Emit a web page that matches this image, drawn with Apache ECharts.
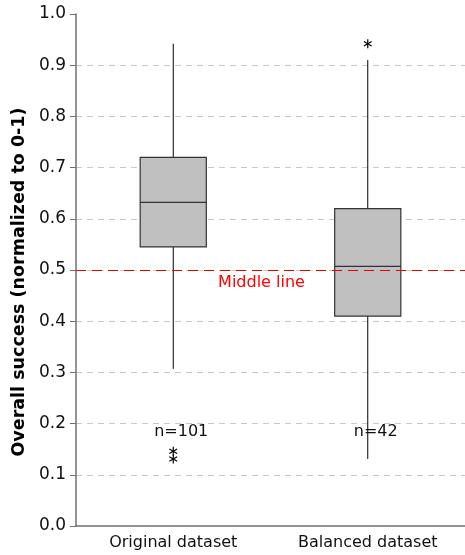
<!DOCTYPE html>
<html><head><meta charset="utf-8">
<script src="https://cdn.jsdelivr.net/npm/echarts@6/dist/echarts.min.js"></script>
<style>html,body{margin:0;padding:0;background:#fff}#c{width:465px;height:555px}</style>
</head><body><div id="c"></div>
<script>
var categories = ['Original dataset', 'Balanced dataset'];
var whiskerLow = [0.307, 0.131];
var q1 = [0.545, 0.410];
var median = [0.632, 0.507];
var q3 = [0.720, 0.620];
var whiskerHigh = [0.942, 0.910];
var outliers = [[0, 0.146], [0, 0.131], [1, 0.942]];
var nLabels = ['n=101', 'n=42'];
var nLabelValue = [0.183, 0.183];
var yTicks = ['0.0','0.1','0.2','0.3','0.4','0.5','0.6','0.7','0.8','0.9','1.0'];
var middleValue = 0.5;

var FONT = 'DejaVu Sans';
var boxData = categories.map(function (c, i) {
  return [i, whiskerLow[i], q1[i], median[i], q3[i], whiskerHigh[i]];
});
var chart = echarts.init(document.getElementById('c'));
chart.setOption({
  animation: false,
  grid: { left: 76, right: 0, top: 14, bottom: 29, containLabel: false, outerBoundsMode: 'none' },
  xAxis: {
    type: 'category', data: categories,
    axisLine: { lineStyle: { color: '#707070', width: 1.5 } },
    axisTick: { alignWithLabel: true, length: 5, lineStyle: { color: '#707070' } },
    axisLabel: { color: '#111', fontFamily: FONT, fontSize: 16, margin: 9 }
  },
  yAxis: {
    type: 'value', min: 0, max: 1, interval: 0.1,
    name: 'Overall success (normalized to 0-1)', nameLocation: 'middle', nameGap: 40,
    nameTextStyle: { fontFamily: FONT, fontWeight: 'bold', fontSize: 17.5, color: '#000',
      padding: [0, 24, 0, 0] },
    axisLine: { show: true, lineStyle: { color: '#707070', width: 1.5 } },
    axisTick: { show: true, length: 6, lineStyle: { color: '#707070' } },
    axisLabel: { color: '#111', fontFamily: FONT, fontSize: 17, margin: 10,
      formatter: function (v) { return yTicks[Math.round(v * 10)]; } },
    splitLine: { show: true, showMinLine: false, showMaxLine: false,
      lineStyle: { color: '#c8c8c8', type: [6, 5], width: 1 } }
  },
  series: [
    {
      type: 'custom', data: boxData, z: 3,
      renderItem: function (params, api) {
        var x = api.value(0);
        var w = api.size([1, 0])[0] * 0.34;
        var pLow = api.coord([x, api.value(1)]);
        var pQ1 = api.coord([x, api.value(2)]);
        var pMed = api.coord([x, api.value(3)]);
        var pQ3 = api.coord([x, api.value(4)]);
        var pHigh = api.coord([x, api.value(5)]);
        return { type: 'group', children: [
          { type: 'line', shape: { x1: pLow[0], y1: pLow[1], x2: pHigh[0], y2: pHigh[1] },
            style: { stroke: '#000', lineWidth: 1 } },
          { type: 'rect', shape: { x: pQ3[0] - w / 2, y: pQ3[1], width: w, height: pQ1[1] - pQ3[1] },
            style: { fill: '#c0c0c0', stroke: '#333', lineWidth: 1.2 } },
          { type: 'line', shape: { x1: pMed[0] - w / 2, y1: pMed[1], x2: pMed[0] + w / 2, y2: pMed[1] },
            style: { stroke: '#333', lineWidth: 1.2 } }
        ]};
      },
      markLine: {
        silent: true, symbol: 'none',
        lineStyle: { color: '#e00000', type: [10, 6], width: 1 },
        label: { show: true, position: 'insideMiddleBottom', formatter: 'Middle line',
          color: '#ff0000', fontFamily: FONT, fontSize: 16, offset: [-9, 0], distance: 5 },
        data: [{ yAxis: middleValue }]
      }
    },
    {
      type: 'custom', data: outliers, z: 4,
      renderItem: function (params, api) {
        var p = api.coord([api.value(0), api.value(1)]);
        var r = 4.5, dx = r * Math.cos(Math.PI / 6), dy = r * Math.sin(Math.PI / 6);
        var st = { stroke: '#000', lineWidth: 1.2 };
        return { type: 'group', children: [
          { type: 'line', shape: { x1: p[0], y1: p[1] - r, x2: p[0], y2: p[1] + r }, style: st },
          { type: 'line', shape: { x1: p[0] - dx, y1: p[1] - dy, x2: p[0] + dx, y2: p[1] + dy }, style: st },
          { type: 'line', shape: { x1: p[0] - dx, y1: p[1] + dy, x2: p[0] + dx, y2: p[1] - dy }, style: st }
        ]};
      }
    },
    {
      type: 'custom', z: 5,
      data: categories.map(function (c, i) { return [i, nLabelValue[i], nLabels[i]]; }),
      renderItem: function (params, api) {
        var p = api.coord([api.value(0), api.value(1)]);
        return { type: 'text', x: p[0] + 8, y: p[1],
          style: { text: nLabels[params.dataIndex], fill: '#111', fontFamily: FONT, fontSize: 16,
            align: 'center', verticalAlign: 'middle' } };
      }
    }
  ]
});
</script></body></html>
